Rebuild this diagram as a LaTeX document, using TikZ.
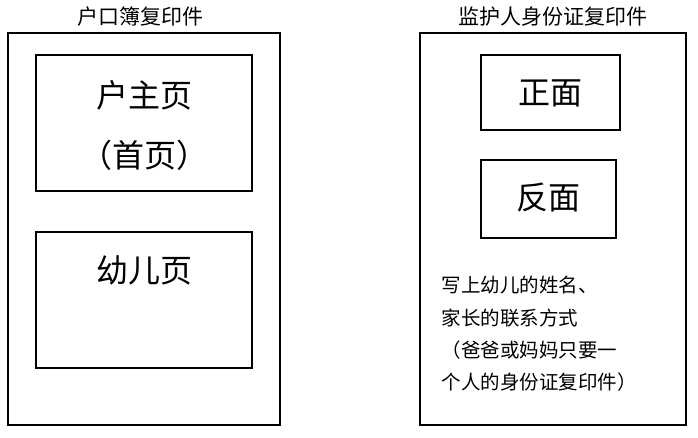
\documentclass[tikz,border=0pt]{standalone}
\usepackage{fontspec}
\setmainfont{Noto Sans CJK SC}
\begin{document}
\begin{tikzpicture}[x=1pt,y=-1pt,
  box/.style={draw,line width=1.2pt},
  big/.style={font=\fontsize{32}{36}\selectfont},
  ttl/.style={font=\fontsize{21}{24}\selectfont},
  note/.style={font=\fontsize{19.5}{22}\selectfont,anchor=west}]
\useasboundingbox (0,0) rectangle (698,437);
\draw[box] (8,33) rectangle (280,425);
\node[ttl] (t1) at (140,17) {户口簿复印件};
\draw[box] (36,55) rectangle (252,191);
\node[big] (a) at (144,95) {户主页};
\node[big] (b) at (144,155) {（首页）};
\draw[box] (36,232) rectangle (252,368);
\node[big] (c) at (144,270) {幼儿页};
\draw[box] (420,33) rectangle (686,425);
\node[ttl] (t2) at (553,17) {监护人身份证复印件};
\draw[box] (481,55) rectangle (620,130);
\node[big] (d) at (550,93) {正面};
\draw[box] (481,160) rectangle (616,238);
\node[big] (e) at (548,198) {反面};
\node[note] (n1) at (438,285) {写上幼儿的姓名、};
\node[note] (n2) at (438,318) {家长的联系方式};
\node[note] (n3) at (438,350) {（爸爸或妈妈只要一};
\node[note] (n4) at (438,382) {个人的身份证复印件）};
\end{tikzpicture}
\end{document}
